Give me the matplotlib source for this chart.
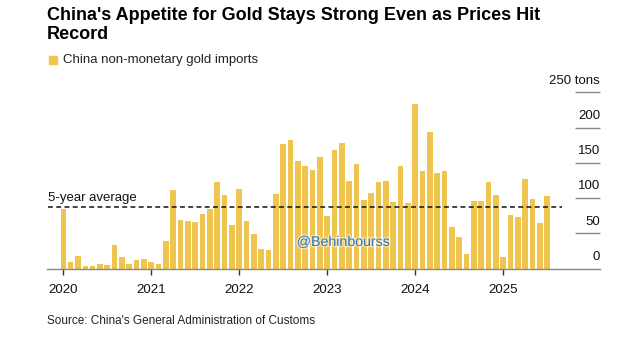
import matplotlib
matplotlib.use("Agg")
import matplotlib.pyplot as plt
import matplotlib.patheffects as pe

# monthly imports, tons, Jan 2020 .. Jul 2025
imports = [
    85, 9, 18, 4, 3, 6, 5, 34, 17, 7, 12, 13,          # 2020
    9, 6, 39, 112, 69, 67, 66, 77, 84, 123, 104, 62,   # 2021
    113, 67, 49, 28, 26, 106, 176, 182, 152, 145, 140, 158,  # 2022
    75, 168, 178, 124, 148, 97, 107, 123, 124, 95, 146, 93,  # 2023
    233, 139, 194, 135, 138, 59, 44, 21, 96, 96, 122, 104,   # 2024
    16, 76, 73, 127, 99, 64, 103,                      # 2025
]
five_year_avg = 87
years = ["2020", "2021", "2022", "2023", "2024", "2025"]
y_ticks = [0, 50, 100, 150, 200, 250]

GOLD = "#EFC550"
plt.rcParams["font.family"] = ["Liberation Sans", "DejaVu Sans"]

W, H = 630, 339
fig = plt.figure(figsize=(W / 100, H / 100), dpi=100)

# axes placed in pixel terms: left 47, right 600, bottom 268.5, top 80
ax = fig.add_axes([47 / W, 1 - 268.5 / H, (600 - 47) / W, (268.5 - 80) / H])
px_per_month = 7.33
x0 = (47 - 63.3) / px_per_month
x1 = (600 - 63.3) / px_per_month
ax.set_xlim(x0, x1)
ax.set_ylim(0, 267.4)

months = list(range(len(imports)))
ax.bar(months, imports, width=0.76, color=GOLD, zorder=2)

# 5-year average
ax.hlines(five_year_avg, x0 + 0.1, (562 - 63.3) / px_per_month, colors="#111111",
          linestyles=(0, (3.2, 2.2)), linewidth=1.1, zorder=3)
ax.text(x0 + 0.1, five_year_avg + 4, "5-year average", fontsize=9.5,
        ha="left", va="bottom", color="#111111")

# short grid marks under the right-hand labels
gx0 = (575 - 63.3) / px_per_month
for v in y_ticks[1:]:
    ax.hlines(v, gx0, x1, colors="#888888", linewidth=1, clip_on=False)
for v in y_ticks:
    lab = f"{v} tons" if v == y_ticks[-1] else str(v)
    ax.text(x1, v + 8, lab, fontsize=9.5, ha="right", va="bottom", color="#111111")

for s in ["top", "right", "left"]:
    ax.spines[s].set_visible(False)
ax.spines["bottom"].set_color("#888888")
ax.spines["bottom"].set_linewidth(1)
ax.set_yticks([])
ax.set_xticks([12 * i for i in range(len(years))])
ax.set_xticklabels(years, fontsize=9.5, color="#111111")
ax.tick_params(axis="x", length=4, width=1, color="#333333", pad=7)

# watermark
ax.text(38.2, 37.6, "@Behinbourss", fontsize=10.2, color="#3B78B8", ha="center",
        va="center", zorder=4,
        path_effects=[pe.withStroke(linewidth=2, foreground="#FFFFFF", alpha=0.5)])

# title, legend, source
fig.text(47 / W, 1 - 7.5 / H, "China's Appetite for Gold Stays Strong Even as Prices Hit\nRecord",
         fontsize=13, fontweight="bold", ha="left", va="top", linespacing=1.12,
         color="#000000")
fig.patches.append(plt.Rectangle((48.5 / W, 1 - 63.5 / H), 8.5 / W, 8 / H,
                                 transform=fig.transFigure, color=GOLD, figure=fig))
fig.text(63 / W, 1 - 59.5 / H, "China non-monetary gold imports", fontsize=9.5,
         ha="left", va="center", color="#222222")
fig.text(47 / W, 1 - 321 / H, "Source: China's General Administration of Customs",
         fontsize=8.5, ha="left", va="center", color="#222222")

fig.savefig("out.png", dpi=100, facecolor="white")
